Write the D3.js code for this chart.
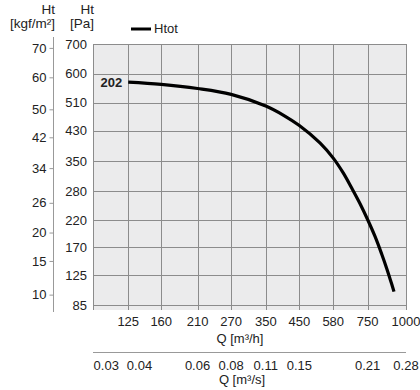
<!DOCTYPE html>
<html>
<head>
<meta charset="utf-8">
<script src="https://cdn.jsdelivr.net/npm/d3@7"></script>
<style>
  body { margin: 0; background: #fff; }
  text { font-family: "Liberation Sans", Arial, sans-serif; fill: #222; }
</style>
</head>
<body>
<div id="chart"></div>
<script>
// Chart data
var flowTicks = [125, 160, 210, 270, 350, 450, 580, 750, 1000];        // Q [m3/h]
var pressureTicks = [700, 600, 510, 430, 350, 280, 220, 170, 125, 85]; // Ht [Pa]
var kgfTicks = [70, 60, 50, 42, 34, 26, 20, 15, 10];                  // Ht [kgf/m2]
var m3sTicks = [0.03, 0.04, 0.06, 0.08, 0.11, 0.15, 0.21, 0.28];      // Q [m3/s]
var m3sAtFlow = [106, 136, 210, 270, 350, 450, 750, 1000];            // where each m3/s label sits on the m3/h axis

// Htot curve (fan 202)
var curveFlow = [125, 160, 210, 270, 350, 400, 450, 525, 580, 625, 666, 709, 750, 793, 834, 866, 899, 914];
var curvePressure = [573, 566, 553, 535, 500, 473, 444, 397, 358, 322, 287, 253, 221, 189, 158, 135, 112, 102];

var svgWidth = 420;
var svgHeight = 390;

// plot area
var plot = { left: 93, right: 406, top: 44, bottom: 310 };

var svg = d3.select("#chart")
  .append("svg")
  .attr("width", svgWidth)
  .attr("height", svgHeight);

// log flow axis, square root pressure axis
var xScale = d3.scaleLog()
  .domain([96, 1000])
  .range([plot.left, plot.right]);

var yScale = d3.scaleSqrt()
  .domain([79, 700])
  .range([plot.bottom, plot.top]);

var kgfToPa = 9.80665;

// background
svg.append("rect")
  .attr("x", plot.left)
  .attr("y", plot.top)
  .attr("width", plot.right - plot.left)
  .attr("height", plot.bottom - plot.top)
  .attr("fill", "#ebebec");

// grid lines
svg.append("g")
  .selectAll("line")
  .data(flowTicks)
  .enter()
  .append("line")
  .attr("x1", d => Math.round(xScale(d)) + 0.5)
  .attr("x2", d => Math.round(xScale(d)) + 0.5)
  .attr("y1", plot.top)
  .attr("y2", plot.bottom)
  .attr("stroke", "#8c8c8c")
  .attr("stroke-width", 1);

svg.append("g")
  .selectAll("line")
  .data(pressureTicks)
  .enter()
  .append("line")
  .attr("x1", plot.left)
  .attr("x2", plot.right)
  .attr("y1", d => Math.round(yScale(d)) + 0.5)
  .attr("y2", d => Math.round(yScale(d)) + 0.5)
  .attr("stroke", "#8c8c8c")
  .attr("stroke-width", 1);

// left border of the plot
svg.append("line")
  .attr("x1", plot.left + 0.5)
  .attr("x2", plot.left + 0.5)
  .attr("y1", plot.top)
  .attr("y2", plot.bottom)
  .attr("stroke", "#8c8c8c");

// Pa tick labels
svg.append("g")
  .selectAll("text")
  .data(pressureTicks)
  .enter()
  .append("text")
  .attr("x", 87)
  .attr("y", d => yScale(d))
  .attr("dy", "0.35em")
  .attr("text-anchor", "end")
  .style("font-size", "13px")
  .text(d => d);

// kgf/m2 axis built with d3 axis
var kgfAxis = d3.axisLeft(yScale)
  .tickValues(kgfTicks.map(d => d * kgfToPa))
  .tickFormat((d, i) => kgfTicks[i])
  .tickSize(4)
  .tickPadding(3);

var kgfGroup = svg.append("g")
  .attr("transform", "translate(53.5, 0)")
  .call(kgfAxis);

kgfGroup.select(".domain")
  .attr("d", "M0,37V312")
  .attr("stroke", "#999");
kgfGroup.selectAll(".tick line").attr("stroke", "#999");
kgfGroup.selectAll(".tick text")
  .style("font-size", "13px")
  .style("font-family", "'Liberation Sans', Arial, sans-serif")
  .attr("fill", "#222");

// axis headers
var headers = [
  { x: 55, lines: ["Ht", "[kgf/m\u00b2]"] },
  { x: 94, lines: ["Ht", "[Pa]"] }
];
headers.forEach(function(h) {
  h.lines.forEach(function(t, i) {
    svg.append("text")
      .attr("x", h.x)
      .attr("y", 14 + i * 13.5)
      .attr("text-anchor", "end")
      .style("font-size", "13.5px")
      .text(t);
  });
});

// m3/h tick labels
svg.append("g")
  .selectAll("text")
  .data(flowTicks)
  .enter()
  .append("text")
  .attr("x", d => xScale(d))
  .attr("y", 326)
  .attr("text-anchor", "middle")
  .style("font-size", "13px")
  .text(d => d);

svg.append("text")
  .attr("x", 240)
  .attr("y", 343)
  .attr("text-anchor", "middle")
  .style("font-size", "13px")
  .text("Q [m\u00b3/h]");

// m3/s axis
svg.append("line")
  .attr("x1", plot.left)
  .attr("x2", plot.right)
  .attr("y1", 352.5)
  .attr("y2", 352.5)
  .attr("stroke", "#999");

svg.append("g")
  .selectAll("text")
  .data(m3sTicks)
  .enter()
  .append("text")
  .attr("x", (d, i) => xScale(m3sAtFlow[i]))
  .attr("y", 370)
  .attr("text-anchor", "middle")
  .style("font-size", "13px")
  .text(d => d.toFixed(2));

svg.append("text")
  .attr("x", 242)
  .attr("y", 384)
  .attr("text-anchor", "middle")
  .style("font-size", "13px")
  .text("Q [m\u00b3/s]");

// Htot curve
var curveData = curveFlow.map((q, i) => ({ q: q, p: curvePressure[i] }));

var drawLine = d3.line()
  .x(d => xScale(d.q))
  .y(d => yScale(d.p))
  .curve(d3.curveCatmullRom.alpha(0.5));

svg.append("path")
  .attr("d", drawLine(curveData))
  .attr("fill", "none")
  .attr("stroke", "#000")
  .attr("stroke-width", 3.2);

// fan label at the start of the curve
svg.append("text")
  .attr("x", xScale(curveFlow[0]) - 6)
  .attr("y", yScale(curvePressure[0]))
  .attr("dy", "0.35em")
  .attr("text-anchor", "end")
  .style("font-size", "13px")
  .style("font-weight", "bold")
  .text("202");

// legend
svg.append("line")
  .attr("x1", 131)
  .attr("x2", 151)
  .attr("y1", 29)
  .attr("y2", 29)
  .attr("stroke", "#000")
  .attr("stroke-width", 3);

svg.append("text")
  .attr("x", 154)
  .attr("y", 33)
  .style("font-size", "13px")
  .text("Htot");
</script>
</body>
</html>
